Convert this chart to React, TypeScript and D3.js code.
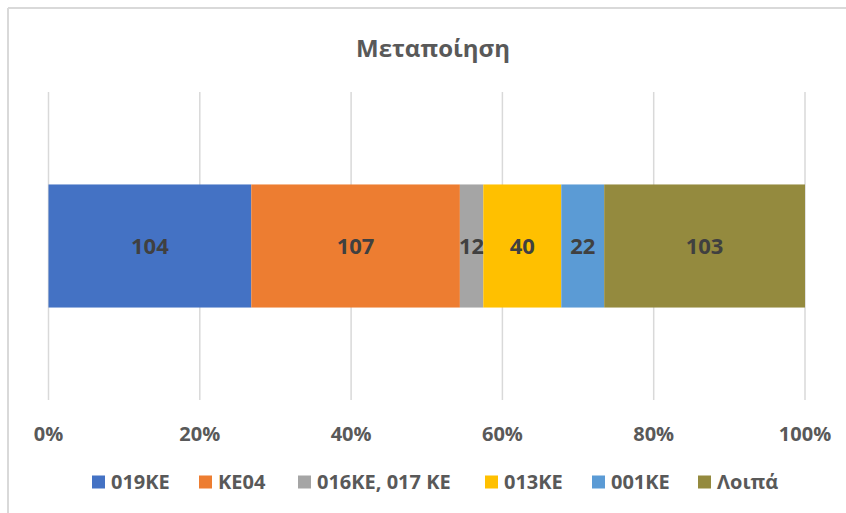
import React from "react";
import * as d3 from "d3";

// Μεταποίηση - one stacked 100% bar
const seriesNames = ["019KE", "KE04", "016KE, 017 KE", "013KE", "001KE", "Λοιπά"];
const seriesValues = [104, 107, 12, 40, 22, 103];
const seriesColors = ["#4472C4", "#ED7D31", "#A5A5A5", "#FFC000", "#5B9BD5", "#948A3E"];
const categories = ["Μεταποίηση"];
const tickValues = [0, 0.2, 0.4, 0.6, 0.8, 1];

const W = 846;
const H = 513;
const FONT = "'Open Sans', 'Noto Sans', sans-serif";

export default function App() {
  const row: Record<string, number | string> = { cat: categories[0] };
  seriesNames.forEach((n, i) => (row[n] = seriesValues[i]));

  const stacked = d3
    .stack<any>()
    .keys(seriesNames)
    .offset(d3.stackOffsetExpand)([row]);

  const x = d3.scaleLinear().domain([0, 1]).range([48.5, 805]);
  const y = d3.scaleBand().domain(categories).range([92, 400]).padding(0.429);

  // legend swatch x positions
  const legendX = [92, 199, 298, 485, 592, 698];

  return (
    <svg width={W} height={H} style={{ position: "absolute", left: 0, top: 0 }}>
      <rect x={0} y={0} width={W} height={H} fill="#fff" />
      <line x1={8} y1={8} x2={W} y2={8} stroke="#d9d9d9" strokeWidth={2} />
      <line x1={8} y1={8} x2={8} y2={H} stroke="#d9d9d9" strokeWidth={2} />

      <text
        x={433}
        y={57}
        textAnchor="middle"
        fontFamily={FONT}
        fontWeight={700}
        fontSize={24}
        fill="#595959"
      >
        Μεταποίηση
      </text>

      {tickValues.map((t) => (
        <line
          key={t}
          x1={x(t)}
          x2={x(t)}
          y1={92}
          y2={400}
          stroke="#d9d9d9"
          strokeWidth={1.5}
        />
      ))}

      {stacked.map((s, i) =>
        s.map((d, j) => {
          const x0 = x(d[0]);
          const x1 = x(d[1]);
          const yb = y(d.data.cat as string)!;
          return (
            <g key={`${i}-${j}`}>
              <rect
                x={x0}
                y={yb}
                width={x1 - x0}
                height={y.bandwidth()}
                fill={seriesColors[i]}
              />
              <text
                x={(x0 + x1) / 2}
                y={yb + y.bandwidth() / 2}
                dy="0.36em"
                textAnchor="middle"
                fontFamily={FONT}
                fontWeight={700}
                fontSize={22}
                fill="#404040"
              >
                {seriesValues[i]}
              </text>
            </g>
          );
        })
      )}

      {tickValues.map((t) => (
        <text
          key={t}
          x={x(t)}
          y={441}
          textAnchor="middle"
          fontFamily={FONT}
          fontWeight={700}
          fontSize={20}
          fill="#595959"
        >
          {d3.format(".0%")(t)}
        </text>
      ))}

      {seriesNames.map((n, i) => (
        <g key={n} transform={`translate(${legendX[i]},482)`}>
          <rect x={0} y={-6.5} width={13} height={13} fill={seriesColors[i]} />
          <text
            x={19}
            y={0}
            dy="0.36em"
            fontFamily={FONT}
            fontWeight={700}
            fontSize={20}
            fill="#595959"
          >
            {n}
          </text>
        </g>
      ))}
    </svg>
  );
}
